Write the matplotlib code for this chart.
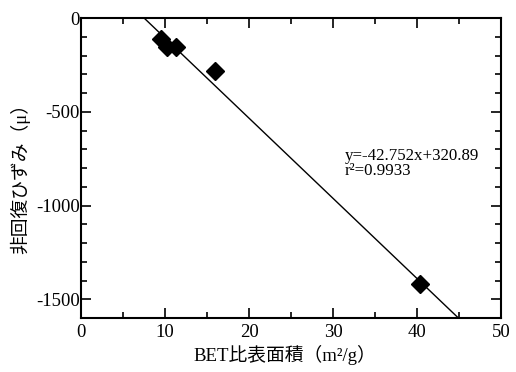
import numpy as np
import matplotlib
matplotlib.use('Agg')
import matplotlib.pyplot as plt
from matplotlib.ticker import MultipleLocator

plt.rcParams['font.family'] = ['Liberation Serif', 'Noto Sans CJK JP']
plt.rcParams['axes.unicode_minus'] = False

# BET surface area vs. irrecoverable strain
bet_area = [9.5, 10.2, 11.3, 15.95, 40.3]
strain = [-112, -157, -153, -282, -1419]

slope = -42.752
intercept = 320.89
r2 = 0.9933

fig = plt.figure(figsize=(5.16, 3.72), dpi=100)
ax = fig.add_axes([0.157, 0.145, 0.814, 0.8066])

xs = np.array([0, 50])
ax.plot(xs, slope * xs + intercept, color='black', lw=1.0)
ax.plot(bet_area, strain, 'D', color='black', ms=9, zorder=3)

ax.text(31.4, -695, f'y={slope}x+{intercept}\nr²={r2}', fontsize=12.2,
        va='top', ha='left', linespacing=0.85)

ax.set_xlim(0, 50)
ax.set_ylim(-1600, 0)
ax.xaxis.set_major_locator(MultipleLocator(10))
ax.xaxis.set_minor_locator(MultipleLocator(5))
ax.yaxis.set_major_locator(MultipleLocator(500))
ax.yaxis.set_minor_locator(MultipleLocator(100))
ax.tick_params(which='both', direction='in', top=True, right=True,
               labelsize=13.5, width=1.2)
ax.tick_params(which='major', length=7)
ax.tick_params(which='minor', length=4)
ax.tick_params(axis='y', pad=1)
ax.tick_params(axis='x', pad=4)
for s in ax.spines.values():
    s.set_linewidth(1.5)

ax.set_xlabel('BET比表面積（m²/g）', fontsize=13.5)
ax.set_ylabel('非回復ひずみ（μ）', fontsize=13.5)
ax.xaxis.set_label_coords(0.485, -0.09)
ax.yaxis.set_label_coords(-0.12, 0.48)

fig.savefig('out.png', dpi=100)
